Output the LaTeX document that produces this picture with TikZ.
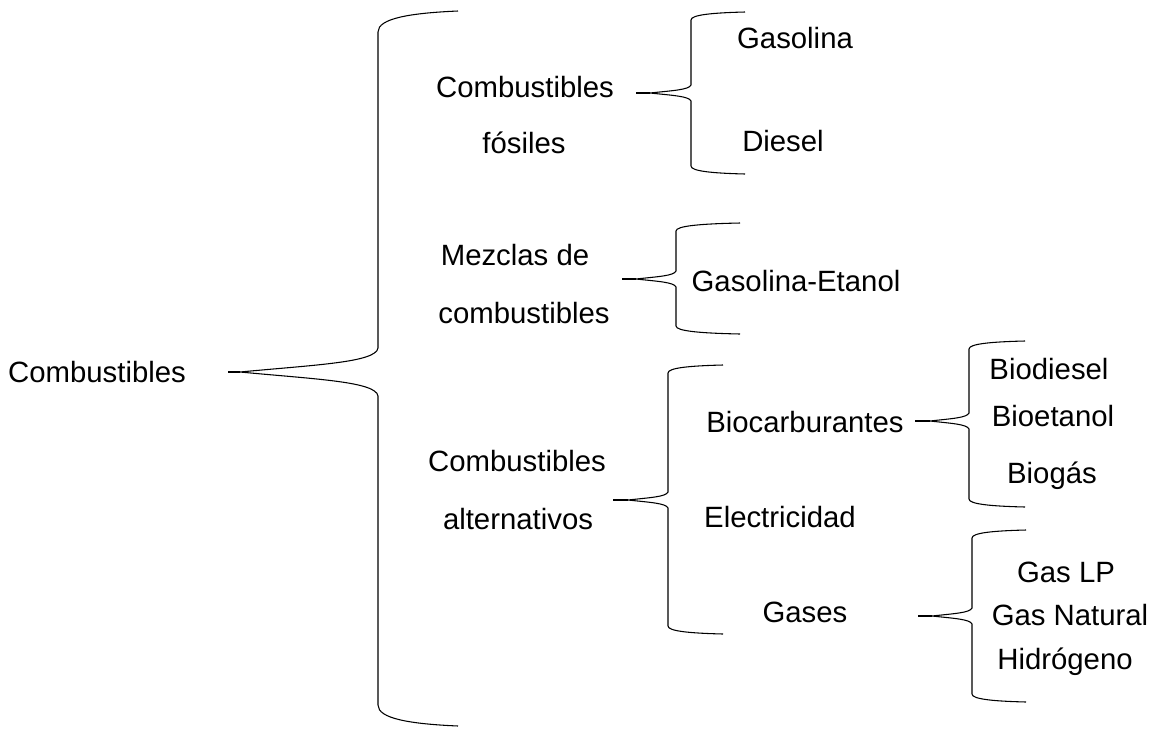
\documentclass[tikz,border=0pt]{standalone}
\usepackage{fontspec}
\setmainfont{Liberation Sans}
\newcommand\mybrace[8]{% xv, ytop, ybot, xend, ycusp, xtip, cusp depth, end depth
  \draw[brace] (#4,#2) .. controls (#1+#4*0.4-#1*0.4,#2+#8*0.1) and (#1,#2+#8*0.35) .. (#1,#2+#8)
    -- (#1,#5-#7) .. controls (#1-2,#5-#7*0.4) and (#1*0.55+#6*0.45,#5-#7*0.3) .. (#6,#5)
    .. controls (#1*0.55+#6*0.45,#5+#7*0.3) and (#1-2,#5+#7*0.4) .. (#1,#5+#7)
    -- (#1,#3-#8) .. controls (#1,#3-#8*0.35) and (#1+#4*0.4-#1*0.4,#3-#8*0.1) .. (#4,#3);}
\begin{document}
\begin{tikzpicture}[x=0.75pt,y=-0.75pt,
  brace/.style={draw=black,line width=0.8pt},
  conn/.style={draw=black,line width=0.8pt},
  lbl/.style={inner sep=0pt,font=\fontsize{22}{26}\selectfont,align=center}]
\useasboundingbox (0,0) rectangle (1154,729);
% braces
\mybrace{378}{11}{726}{458}{372}{240}{24}{21}
\mybrace{691}{12}{174}{745}{93}{650}{8}{8}
\mybrace{676}{223}{334}{740}{279}{636}{8}{8}
\mybrace{668}{365}{634}{723}{500}{628}{8}{8}
\mybrace{969}{341}{507}{1025}{421}{930}{8}{8}
\mybrace{972}{530}{702}{1026}{616}{932}{8}{8}
% labels
\node[lbl] (root) at (97,372) {Combustibles};
\node[lbl] (fos1) at (525,87) {Combustibles};
\node[lbl] (fos2) at (524,143) {fósiles};
\node[lbl] (gasolina) at (795,38) {Gasolina};
\node[lbl] (diesel) at (783,141) {Diesel};
\node[lbl] (mez1) at (515,255) {Mezclas de};
\node[lbl] (mez2) at (524,313) {combustibles};
\node[lbl] (gaset) at (796,281) {Gasolina-Etanol};
\node[lbl] (alt1) at (517,461) {Combustibles};
\node[lbl] (alt2) at (518,519) {alternativos};
\node[lbl] (bioc) at (805,422) {Biocarburantes};
\node[lbl] (elec) at (780,517) {Electricidad};
\node[lbl] (gases) at (805,612) {Gases};
\node[lbl] (biod) at (1049,369) {Biodiesel};
\node[lbl] (bioe) at (1053,416) {Bioetanol};
\node[lbl] (biog) at (1052,476) {Biogás};
\node[lbl] (glp) at (1066,572) {Gas LP};
\node[lbl] (gnat) at (1070,615) {Gas Natural};
\node[lbl] (hidr) at (1065,662) {Hidrógeno};
% connector ends
\coordinate (t0) at (240,372);
\coordinate (t1) at (650,93);
\coordinate (t2) at (636,279);
\coordinate (t3) at (628,500);
\coordinate (t4) at (930,421);
\coordinate (t5) at (932,616);
\coordinate (s0) at (228,372);
\coordinate (s1) at (636,93);
\coordinate (s2) at (622,279);
\coordinate (s3) at (613,500);
\coordinate (s4) at (915,421);
\coordinate (s5) at (918,616);
\draw[conn] (s0) -- (t0);
\draw[conn] (s1) -- (t1);
\draw[conn] (s2) -- (t2);
\draw[conn] (s3) -- (t3);
\draw[conn] (s4) -- (t4);
\draw[conn] (s5) -- (t5);
\end{tikzpicture}
\end{document}
